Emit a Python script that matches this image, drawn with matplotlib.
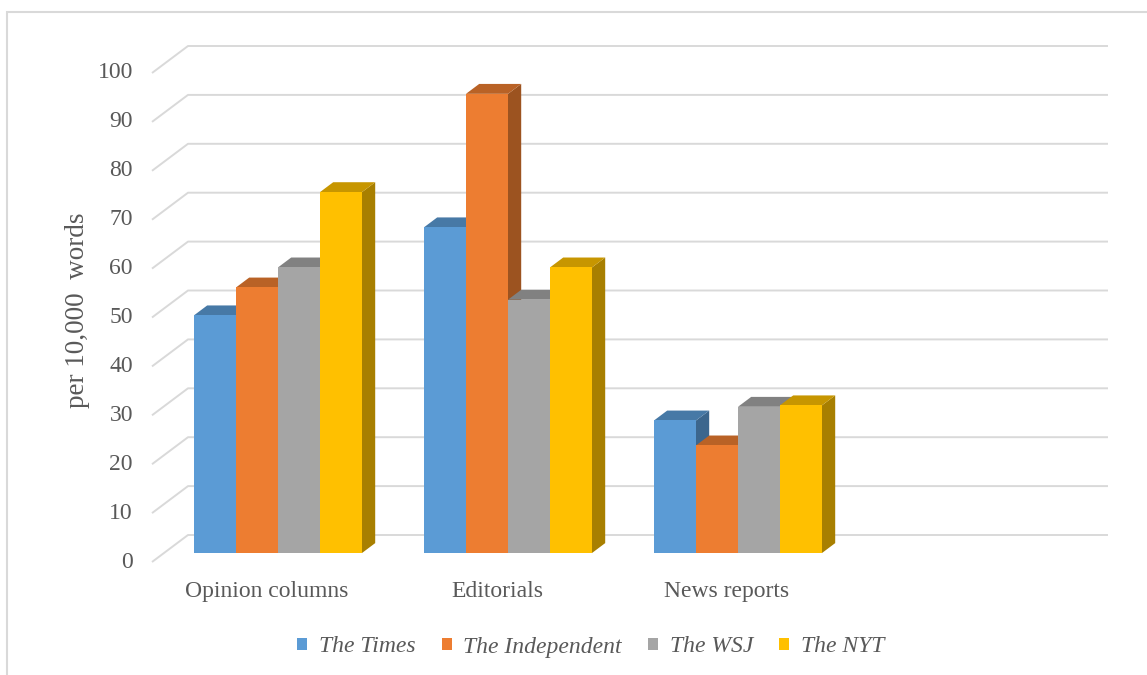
import numpy as np
import matplotlib
matplotlib.use("Agg")
import matplotlib.pyplot as plt
from matplotlib.patches import Polygon, Patch, Rectangle
from matplotlib.colors import to_rgb

# data (per 10,000 words)
genres = ['Opinion columns', 'Editorials', 'News reports']
papers = ['The Times', 'The Independent', 'The WSJ', 'The NYT']
times = [48.6, 66.6, 27.1]
independent = [54.3, 93.9, 22.0]
wsj = [58.4, 51.8, 29.9]
nyt = [73.8, 58.4, 30.2]
yticks = list(range(0, 101, 10))

colors = ['#5B9BD5', '#ED7D31', '#A5A5A5', '#FFC000']
text_col = '#595959'
grid_col = '#D9D9D9'

# pseudo-3d geometry (pixels on a 1147x675 canvas)
W, H = 1147, 675
px_cat = 230.0          # width of one category slot
px_unit = 4.89          # pixels per value unit
x0_px, y0_px = 152, 562  # front-left corner of the floor
depth_px = (36, 27)     # back wall offset (right, up)
n_slots = 4

ddx = depth_px[0] / px_cat
ddy = depth_px[1] / px_unit

fig = plt.figure(figsize=(W / 100, H / 100), dpi=100)
ax = fig.add_axes([0, 0, 1, 1])
ax.set_xlim(-x0_px / px_cat, (W - x0_px) / px_cat)
ax.set_ylim(-(H - y0_px) / px_unit, y0_px / px_unit)
ax.axis('off')

# outer frame (only the left and top edges fall inside the canvas)
ax.add_patch(Rectangle((0.006, -0.2), 1.2, 1.182, transform=fig.transFigure,
                       fill=False, ec='#D9D9D9', lw=1.5, zorder=0))

plt.rcParams['font.family'] = 'Liberation Serif'

# gridlines: diagonal on the side wall, then along the back wall
for v in yticks:
    ax.plot([0, ddx, n_slots + ddx], [v, v + ddy, v + ddy],
            color=grid_col, lw=1.4, zorder=1, solid_capstyle='butt')
    ax.text(-0.083, v, str(v), ha='right', va='center', fontsize=17,
            color=text_col)

ax.text(-0.322, 51.5, 'per 10,000  words', rotation=90, ha='center',
        va='center', fontsize=19.5, color=text_col)

for i, g in enumerate(genres):
    ax.text(i + 0.5, -6.0, g, ha='center', va='center', fontsize=17,
            color=text_col)

# bars
series = [times, independent, wsj, nyt]
bw = 42 / px_cat
d0, d1 = 1 / 3, 0.70
left0 = 30 / px_cat
z = 2
for i in range(len(genres)):
    for k, vals in enumerate(series):
        v = vals[i]
        xl = i + left0 + k * bw + ddx * d0
        yb = ddy * d0
        xr = xl + bw
        yt = yb + v
        sx = ddx * (d1 - d0)
        sy = ddy * (d1 - d0)
        base = np.array(to_rgb(colors[k]))
        side = Polygon([(xr, yb), (xr + sx, yb + sy), (xr + sx, yt + sy), (xr, yt)],
                       closed=True, fc=base * 0.66, ec='none', zorder=z)
        top = Polygon([(xl, yt), (xl + sx, yt + sy), (xr + sx, yt + sy), (xr, yt)],
                      closed=True, fc=base * 0.78, ec='none', zorder=z)
        ax.add_patch(side)
        ax.add_patch(top)
        ax.bar(xl, v, width=bw, bottom=yb, align='edge', color=colors[k],
               edgecolor='none', zorder=z + 0.5)
        z += 1

handles = [Patch(fc=c, ec='none') for c in colors]
leg = fig.legend(handles, papers, loc='center', bbox_to_anchor=(0.515, 1 - 647 / H),
                 ncol=4, frameon=False, handlelength=0.42, handleheight=0.42,
                 handletextpad=0.5, columnspacing=1.1,
                 prop={'family': 'Liberation Serif', 'style': 'italic', 'size': 17})
for t in leg.get_texts():
    t.set_color(text_col)

fig.savefig('out.png', dpi=100, facecolor='white')
